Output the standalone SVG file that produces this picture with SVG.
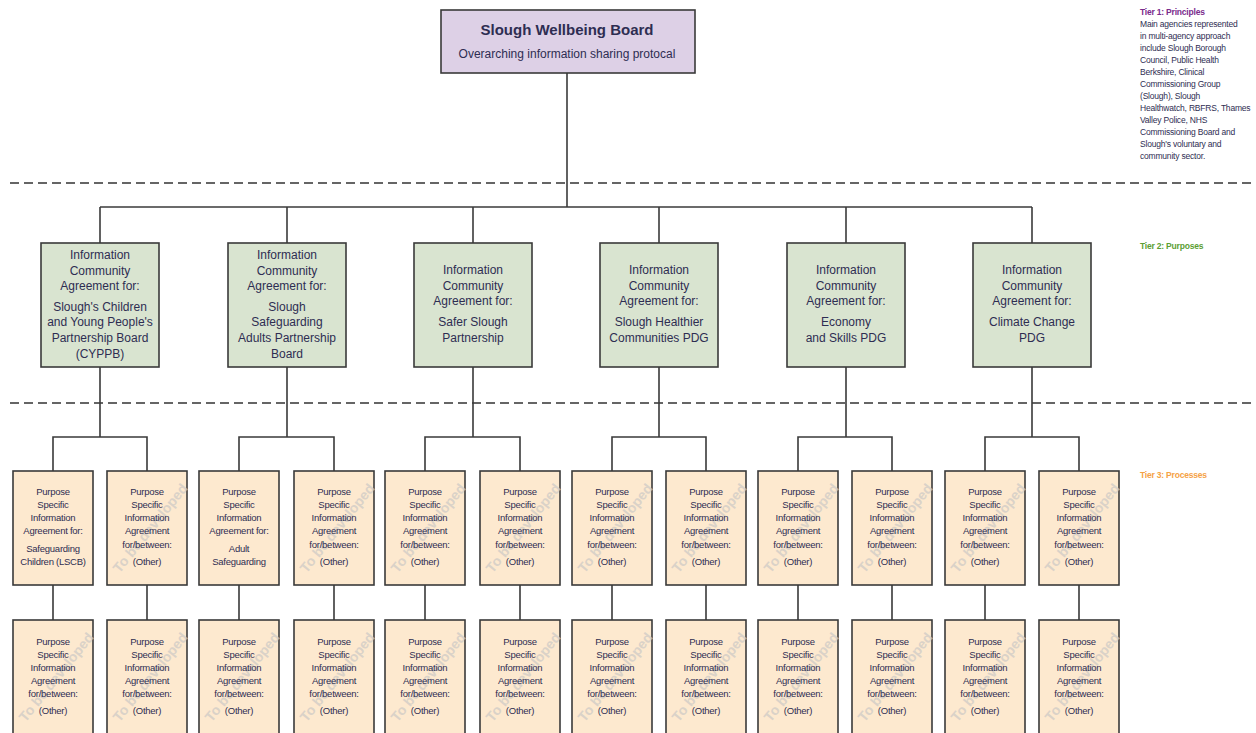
<svg xmlns="http://www.w3.org/2000/svg" width="1256" height="733" viewBox="0 0 1256 733">
<style>
.t1{fill:#ddd0e6;stroke:#3a3a3a;stroke-width:1.6}
.t2{fill:#d9e4d0;stroke:#3a3a3a;stroke-width:1.6}
.t3{fill:#fde9cf;stroke:#3a3a3a;stroke-width:1.6}
.c{stroke:#3a3a3a;stroke-width:1.6;fill:none}
.d{stroke:#333;stroke-width:1.5;stroke-dasharray:9 5;fill:none}
text{font-family:"Liberation Sans",Arial,sans-serif;fill:#2e2d52;text-anchor:middle}
.s2{font-size:12px}
.s3{font-size:9.5px;letter-spacing:-0.25px}
.wm{font-size:14px;font-weight:bold;fill:#cfcbc6;opacity:0.75}
.side{text-anchor:start;font-size:8.5px;letter-spacing:-0.2px}
</style>

<!-- tier separators -->
<g id="separators">
<line class="d" x1="10" y1="183" x2="1256" y2="183"/>
<line class="d" x1="10" y1="403" x2="1256" y2="403"/>
</g>

<!-- connectors -->
<g id="connectors">
<line class="c" x1="567" y1="73" x2="567" y2="207"/>
<line class="c" x1="100" y1="207" x2="1032" y2="207"/>
<line class="c" x1="100" y1="207" x2="100" y2="243"/>
<line class="c" x1="287" y1="207" x2="287" y2="243"/>
<line class="c" x1="473" y1="207" x2="473" y2="243"/>
<line class="c" x1="659" y1="207" x2="659" y2="243"/>
<line class="c" x1="846" y1="207" x2="846" y2="243"/>
<line class="c" x1="1032" y1="207" x2="1032" y2="243"/>
<path class="c" d="M100 367V437M53 471V437H147V471"/>
<path class="c" d="M287 367V437M239 471V437H334V471"/>
<path class="c" d="M473 367V437M425 471V437H520V471"/>
<path class="c" d="M659 367V437M612 471V437H706V471"/>
<path class="c" d="M846 367V437M798 471V437H892V471"/>
<path class="c" d="M1032 367V437M985 471V437H1079V471"/>
<path class="c" d="M53 585V620M147 585V620M239 585V620M334 585V620M425 585V620M520 585V620M612 585V620M706 585V620M798 585V620M892 585V620M985 585V620M1079 585V620"/>
</g>

<!-- tier 1 -->
<g id="board">
<rect class="t1" x="441" y="10" width="254" height="63"/>
<text x="567" y="35" style="font-size:15px;font-weight:bold">Slough Wellbeing Board</text>
<text x="567" y="58" class="s2">Overarching information sharing protocal</text>
</g>

<!-- tier labels -->
<g id="tier1-label">
<text class="side" x="1140" y="15" style="fill:#7a2b8c;font-weight:bold">Tier 1: Principles</text>
<text class="side" x="1140" y="27">Main agencies represented</text>
<text class="side" x="1140" y="39">in multi-agency approach</text>
<text class="side" x="1140" y="51">include Slough Borough</text>
<text class="side" x="1140" y="63">Council, Public Health</text>
<text class="side" x="1140" y="75">Berkshire, Clinical</text>
<text class="side" x="1140" y="87">Commissioning Group</text>
<text class="side" x="1140" y="99">(Slough), Slough</text>
<text class="side" x="1140" y="111">Healthwatch, RBFRS, Thames</text>
<text class="side" x="1140" y="123">Valley Police, NHS</text>
<text class="side" x="1140" y="135">Commissioning Board and</text>
<text class="side" x="1140" y="147">Slough's voluntary and</text>
<text class="side" x="1140" y="159">community sector.</text>
</g>
<g id="tier2-label"><text class="side" x="1140" y="249" style="fill:#5c9e34;font-weight:bold">Tier 2: Purposes</text></g>
<g id="tier3-label"><text class="side" x="1140" y="478" style="fill:#f5a245;font-weight:bold">Tier 3: Processes</text></g>

<!-- tier 2 -->
<g id="t2-cyppb">
<rect class="t2" x="41" y="243" width="118" height="124"/>
<text class="s2" x="100" y="259">Information</text>
<text class="s2" x="100" y="275">Community</text>
<text class="s2" x="100" y="290">Agreement for:</text>
<text class="s2" x="100" y="311">Slough's Children</text>
<text class="s2" x="100" y="326">and Young People's</text>
<text class="s2" x="100" y="342">Partnership Board</text>
<text class="s2" x="100" y="358">(CYPPB)</text>
</g>
<g id="t2-adults">
<rect class="t2" x="228" y="243" width="118" height="124"/>
<text class="s2" x="287" y="259">Information</text>
<text class="s2" x="287" y="275">Community</text>
<text class="s2" x="287" y="290">Agreement for:</text>
<text class="s2" x="287" y="311">Slough</text>
<text class="s2" x="287" y="326">Safeguarding</text>
<text class="s2" x="287" y="342">Adults Partnership</text>
<text class="s2" x="287" y="358">Board</text>
</g>
<g id="t2-safer">
<rect class="t2" x="414" y="243" width="118" height="124"/>
<text class="s2" x="473" y="274">Information</text>
<text class="s2" x="473" y="290">Community</text>
<text class="s2" x="473" y="305">Agreement for:</text>
<text class="s2" x="473" y="326">Safer Slough</text>
<text class="s2" x="473" y="342">Partnership</text>
</g>
<g id="t2-healthier">
<rect class="t2" x="600" y="243" width="118" height="124"/>
<text class="s2" x="659" y="274">Information</text>
<text class="s2" x="659" y="290">Community</text>
<text class="s2" x="659" y="305">Agreement for:</text>
<text class="s2" x="659" y="326">Slough Healthier</text>
<text class="s2" x="659" y="342">Communities PDG</text>
</g>
<g id="t2-economy">
<rect class="t2" x="787" y="243" width="118" height="124"/>
<text class="s2" x="846" y="274">Information</text>
<text class="s2" x="846" y="290">Community</text>
<text class="s2" x="846" y="305">Agreement for:</text>
<text class="s2" x="846" y="326">Economy</text>
<text class="s2" x="846" y="342">and Skills PDG</text>
</g>
<g id="t2-climate">
<rect class="t2" x="973" y="243" width="118" height="124"/>
<text class="s2" x="1032" y="274">Information</text>
<text class="s2" x="1032" y="290">Community</text>
<text class="s2" x="1032" y="305">Agreement for:</text>
<text class="s2" x="1032" y="326">Climate Change</text>
<text class="s2" x="1032" y="342">PDG</text>
</g>

<!-- tier 3 row 1 -->
<g id="t3a-1">
<rect class="t3" x="13" y="471" width="80" height="114"/>
<text class="s3" x="53" y="495">Purpose</text>
<text class="s3" x="53" y="508">Specific</text>
<text class="s3" x="53" y="521">Information</text>
<text class="s3" x="53" y="534">Agreement for:</text>
<text class="s3" x="53" y="552">Safeguarding</text>
<text class="s3" x="53" y="565">Children (LSCB)</text>
</g>
<g id="t3a-3">
<rect class="t3" x="199" y="471" width="80" height="114"/>
<text class="s3" x="239" y="495">Purpose</text>
<text class="s3" x="239" y="508">Specific</text>
<text class="s3" x="239" y="521">Information</text>
<text class="s3" x="239" y="534">Agreement for:</text>
<text class="s3" x="239" y="552">Adult</text>
<text class="s3" x="239" y="565">Safeguarding</text>
</g>
<g id="t3a-2"><rect class="t3" x="107" y="471" width="80" height="114"/><text class="wm" transform="translate(150 528) rotate(-51)" y="5">To be developed</text><text class="s3" x="147" y="495">Purpose</text><text class="s3" x="147" y="508">Specific</text><text class="s3" x="147" y="521">Information</text><text class="s3" x="147" y="534">Agreement</text><text class="s3" x="147" y="548">for/between:</text><text class="s3" x="147" y="565">(Other)</text></g>
<g id="t3a-4"><rect class="t3" x="294" y="471" width="80" height="114"/><text class="wm" transform="translate(337 528) rotate(-51)" y="5">To be developed</text><text class="s3" x="334" y="495">Purpose</text><text class="s3" x="334" y="508">Specific</text><text class="s3" x="334" y="521">Information</text><text class="s3" x="334" y="534">Agreement</text><text class="s3" x="334" y="548">for/between:</text><text class="s3" x="334" y="565">(Other)</text></g>
<g id="t3a-5"><rect class="t3" x="385" y="471" width="80" height="114"/><text class="wm" transform="translate(428 528) rotate(-51)" y="5">To be developed</text><text class="s3" x="425" y="495">Purpose</text><text class="s3" x="425" y="508">Specific</text><text class="s3" x="425" y="521">Information</text><text class="s3" x="425" y="534">Agreement</text><text class="s3" x="425" y="548">for/between:</text><text class="s3" x="425" y="565">(Other)</text></g>
<g id="t3a-6"><rect class="t3" x="480" y="471" width="80" height="114"/><text class="wm" transform="translate(523 528) rotate(-51)" y="5">To be developed</text><text class="s3" x="520" y="495">Purpose</text><text class="s3" x="520" y="508">Specific</text><text class="s3" x="520" y="521">Information</text><text class="s3" x="520" y="534">Agreement</text><text class="s3" x="520" y="548">for/between:</text><text class="s3" x="520" y="565">(Other)</text></g>
<g id="t3a-7"><rect class="t3" x="572" y="471" width="80" height="114"/><text class="wm" transform="translate(615 528) rotate(-51)" y="5">To be developed</text><text class="s3" x="612" y="495">Purpose</text><text class="s3" x="612" y="508">Specific</text><text class="s3" x="612" y="521">Information</text><text class="s3" x="612" y="534">Agreement</text><text class="s3" x="612" y="548">for/between:</text><text class="s3" x="612" y="565">(Other)</text></g>
<g id="t3a-8"><rect class="t3" x="666" y="471" width="80" height="114"/><text class="wm" transform="translate(709 528) rotate(-51)" y="5">To be developed</text><text class="s3" x="706" y="495">Purpose</text><text class="s3" x="706" y="508">Specific</text><text class="s3" x="706" y="521">Information</text><text class="s3" x="706" y="534">Agreement</text><text class="s3" x="706" y="548">for/between:</text><text class="s3" x="706" y="565">(Other)</text></g>
<g id="t3a-9"><rect class="t3" x="758" y="471" width="80" height="114"/><text class="wm" transform="translate(801 528) rotate(-51)" y="5">To be developed</text><text class="s3" x="798" y="495">Purpose</text><text class="s3" x="798" y="508">Specific</text><text class="s3" x="798" y="521">Information</text><text class="s3" x="798" y="534">Agreement</text><text class="s3" x="798" y="548">for/between:</text><text class="s3" x="798" y="565">(Other)</text></g>
<g id="t3a-10"><rect class="t3" x="852" y="471" width="80" height="114"/><text class="wm" transform="translate(895 528) rotate(-51)" y="5">To be developed</text><text class="s3" x="892" y="495">Purpose</text><text class="s3" x="892" y="508">Specific</text><text class="s3" x="892" y="521">Information</text><text class="s3" x="892" y="534">Agreement</text><text class="s3" x="892" y="548">for/between:</text><text class="s3" x="892" y="565">(Other)</text></g>
<g id="t3a-11"><rect class="t3" x="945" y="471" width="80" height="114"/><text class="wm" transform="translate(988 528) rotate(-51)" y="5">To be developed</text><text class="s3" x="985" y="495">Purpose</text><text class="s3" x="985" y="508">Specific</text><text class="s3" x="985" y="521">Information</text><text class="s3" x="985" y="534">Agreement</text><text class="s3" x="985" y="548">for/between:</text><text class="s3" x="985" y="565">(Other)</text></g>
<g id="t3a-12"><rect class="t3" x="1039" y="471" width="80" height="114"/><text class="wm" transform="translate(1082 528) rotate(-51)" y="5">To be developed</text><text class="s3" x="1079" y="495">Purpose</text><text class="s3" x="1079" y="508">Specific</text><text class="s3" x="1079" y="521">Information</text><text class="s3" x="1079" y="534">Agreement</text><text class="s3" x="1079" y="548">for/between:</text><text class="s3" x="1079" y="565">(Other)</text></g>

<!-- tier 3 row 2 -->
<g id="t3b-1"><rect class="t3" x="13" y="620" width="80" height="130"/><text class="wm" transform="translate(56 677) rotate(-51)" y="5">To be developed</text><text class="s3" x="53" y="645">Purpose</text><text class="s3" x="53" y="658">Specific</text><text class="s3" x="53" y="671">Information</text><text class="s3" x="53" y="684">Agreement</text><text class="s3" x="53" y="697">for/between:</text><text class="s3" x="53" y="714">(Other)</text></g>
<g id="t3b-2"><rect class="t3" x="107" y="620" width="80" height="130"/><text class="wm" transform="translate(150 677) rotate(-51)" y="5">To be developed</text><text class="s3" x="147" y="645">Purpose</text><text class="s3" x="147" y="658">Specific</text><text class="s3" x="147" y="671">Information</text><text class="s3" x="147" y="684">Agreement</text><text class="s3" x="147" y="697">for/between:</text><text class="s3" x="147" y="714">(Other)</text></g>
<g id="t3b-3"><rect class="t3" x="199" y="620" width="80" height="130"/><text class="wm" transform="translate(242 677) rotate(-51)" y="5">To be developed</text><text class="s3" x="239" y="645">Purpose</text><text class="s3" x="239" y="658">Specific</text><text class="s3" x="239" y="671">Information</text><text class="s3" x="239" y="684">Agreement</text><text class="s3" x="239" y="697">for/between:</text><text class="s3" x="239" y="714">(Other)</text></g>
<g id="t3b-4"><rect class="t3" x="294" y="620" width="80" height="130"/><text class="wm" transform="translate(337 677) rotate(-51)" y="5">To be developed</text><text class="s3" x="334" y="645">Purpose</text><text class="s3" x="334" y="658">Specific</text><text class="s3" x="334" y="671">Information</text><text class="s3" x="334" y="684">Agreement</text><text class="s3" x="334" y="697">for/between:</text><text class="s3" x="334" y="714">(Other)</text></g>
<g id="t3b-5"><rect class="t3" x="385" y="620" width="80" height="130"/><text class="wm" transform="translate(428 677) rotate(-51)" y="5">To be developed</text><text class="s3" x="425" y="645">Purpose</text><text class="s3" x="425" y="658">Specific</text><text class="s3" x="425" y="671">Information</text><text class="s3" x="425" y="684">Agreement</text><text class="s3" x="425" y="697">for/between:</text><text class="s3" x="425" y="714">(Other)</text></g>
<g id="t3b-6"><rect class="t3" x="480" y="620" width="80" height="130"/><text class="wm" transform="translate(523 677) rotate(-51)" y="5">To be developed</text><text class="s3" x="520" y="645">Purpose</text><text class="s3" x="520" y="658">Specific</text><text class="s3" x="520" y="671">Information</text><text class="s3" x="520" y="684">Agreement</text><text class="s3" x="520" y="697">for/between:</text><text class="s3" x="520" y="714">(Other)</text></g>
<g id="t3b-7"><rect class="t3" x="572" y="620" width="80" height="130"/><text class="wm" transform="translate(615 677) rotate(-51)" y="5">To be developed</text><text class="s3" x="612" y="645">Purpose</text><text class="s3" x="612" y="658">Specific</text><text class="s3" x="612" y="671">Information</text><text class="s3" x="612" y="684">Agreement</text><text class="s3" x="612" y="697">for/between:</text><text class="s3" x="612" y="714">(Other)</text></g>
<g id="t3b-8"><rect class="t3" x="666" y="620" width="80" height="130"/><text class="wm" transform="translate(709 677) rotate(-51)" y="5">To be developed</text><text class="s3" x="706" y="645">Purpose</text><text class="s3" x="706" y="658">Specific</text><text class="s3" x="706" y="671">Information</text><text class="s3" x="706" y="684">Agreement</text><text class="s3" x="706" y="697">for/between:</text><text class="s3" x="706" y="714">(Other)</text></g>
<g id="t3b-9"><rect class="t3" x="758" y="620" width="80" height="130"/><text class="wm" transform="translate(801 677) rotate(-51)" y="5">To be developed</text><text class="s3" x="798" y="645">Purpose</text><text class="s3" x="798" y="658">Specific</text><text class="s3" x="798" y="671">Information</text><text class="s3" x="798" y="684">Agreement</text><text class="s3" x="798" y="697">for/between:</text><text class="s3" x="798" y="714">(Other)</text></g>
<g id="t3b-10"><rect class="t3" x="852" y="620" width="80" height="130"/><text class="wm" transform="translate(895 677) rotate(-51)" y="5">To be developed</text><text class="s3" x="892" y="645">Purpose</text><text class="s3" x="892" y="658">Specific</text><text class="s3" x="892" y="671">Information</text><text class="s3" x="892" y="684">Agreement</text><text class="s3" x="892" y="697">for/between:</text><text class="s3" x="892" y="714">(Other)</text></g>
<g id="t3b-11"><rect class="t3" x="945" y="620" width="80" height="130"/><text class="wm" transform="translate(988 677) rotate(-51)" y="5">To be developed</text><text class="s3" x="985" y="645">Purpose</text><text class="s3" x="985" y="658">Specific</text><text class="s3" x="985" y="671">Information</text><text class="s3" x="985" y="684">Agreement</text><text class="s3" x="985" y="697">for/between:</text><text class="s3" x="985" y="714">(Other)</text></g>
<g id="t3b-12"><rect class="t3" x="1039" y="620" width="80" height="130"/><text class="wm" transform="translate(1082 677) rotate(-51)" y="5">To be developed</text><text class="s3" x="1079" y="645">Purpose</text><text class="s3" x="1079" y="658">Specific</text><text class="s3" x="1079" y="671">Information</text><text class="s3" x="1079" y="684">Agreement</text><text class="s3" x="1079" y="697">for/between:</text><text class="s3" x="1079" y="714">(Other)</text></g>
</svg>
